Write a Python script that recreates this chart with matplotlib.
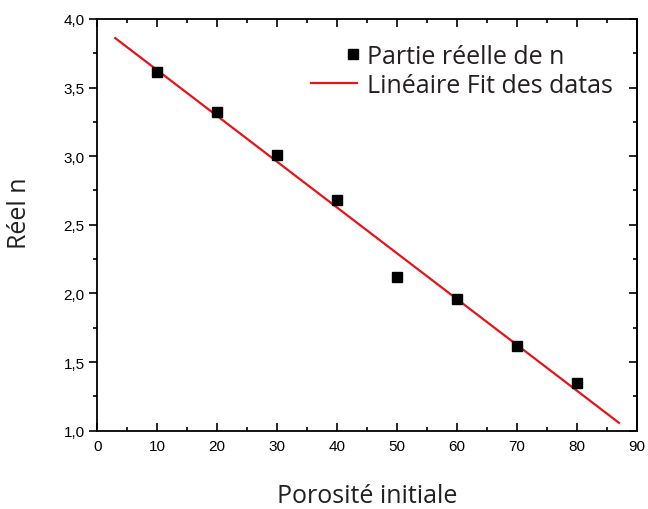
import numpy as np
import matplotlib
matplotlib.use('Agg')
import matplotlib.pyplot as plt
from matplotlib.ticker import MultipleLocator, FuncFormatter
from matplotlib.legend_handler import HandlerLine2DCompound

porosite = [10, 20, 30, 40, 50, 60, 70, 80]
reel_n = [3.61, 3.32, 3.01, 2.68, 2.12, 1.96, 1.62, 1.35]
fit_range = [3, 87]

pente, ordonnee = np.polyfit(porosite, reel_n, 1)
x_fit = np.array(fit_range)
y_fit = pente * x_fit + ordonnee


class MarkerRight(HandlerLine2DCompound):
    # put the legend marker at the right end of the handle, like Origin does
    def get_xdata(self, legend, xdescent, ydescent, width, height, fontsize):
        xdata, xm = super().get_xdata(legend, xdescent, ydescent, width, height, fontsize)
        return xdata, [-xdescent + width - 3]


plt.rcParams['font.family'] = ['Liberation Sans', 'DejaVu Sans']

fig = plt.figure(figsize=(6.48, 5.10), dpi=100)
ax = fig.add_axes([0.150, 0.1535, 0.833, 0.8075])

pts, = ax.plot(porosite, reel_n, 's', color='black', markersize=6.5, label='Partie réelle de n', zorder=3)
ax.plot(x_fit, y_fit, '-', color='#e5141b', linewidth=1.6, label='Linéaire Fit des datas')

ax.set_xlim(0, 90)
ax.set_ylim(1.0, 4.0)
ax.xaxis.set_major_locator(MultipleLocator(10))
ax.xaxis.set_minor_locator(MultipleLocator(5))
ax.yaxis.set_major_locator(MultipleLocator(0.5))
ax.yaxis.set_minor_locator(MultipleLocator(0.25))
ax.yaxis.set_major_formatter(FuncFormatter(lambda v, p: ('%.1f' % v).replace('.', ',')))

ax.tick_params(which='both', labelsize=11, width=1.2)
ax.tick_params(axis='x', which='both', direction='in', top=True, pad=6)
ax.tick_params(axis='y', which='both', direction='out', right=False, pad=3.5)
ax.tick_params(which='major', length=5.5)
ax.tick_params(which='minor', length=3)
for s in ax.spines.values():
    s.set_linewidth(1.3)

# right side ticks point inwards
droite = ax.secondary_yaxis('right')
droite.yaxis.set_major_locator(MultipleLocator(0.5))
droite.yaxis.set_minor_locator(MultipleLocator(0.25))
droite.tick_params(which='both', direction='in', labelright=False, width=1.2)
droite.tick_params(which='major', length=5.5)
droite.tick_params(which='minor', length=3)
droite.spines['right'].set_linewidth(1.3)

lab_font = {'family': 'Open Sans', 'size': 18, 'color': '#231f20'}
ax.set_xlabel('Porosité initiale', fontdict=lab_font)
ax.xaxis.set_label_coords(0.5, -0.128)
ax.set_ylabel('Réel n', fontdict=lab_font)
ax.yaxis.set_label_coords(-0.12, 0.53)

leg = ax.legend(loc='upper right', bbox_to_anchor=(0.956, 0.94), borderaxespad=0, frameon=False,
                prop={'family': 'Open Sans', 'size': 18}, handlelength=1.84,
                handletextpad=0.4, labelspacing=0.17, borderpad=0,
                handler_map={pts: MarkerRight(numpoints=1)})
for t in leg.get_texts():
    t.set_color('#231f20')

fig.savefig('out.png', dpi=100)
